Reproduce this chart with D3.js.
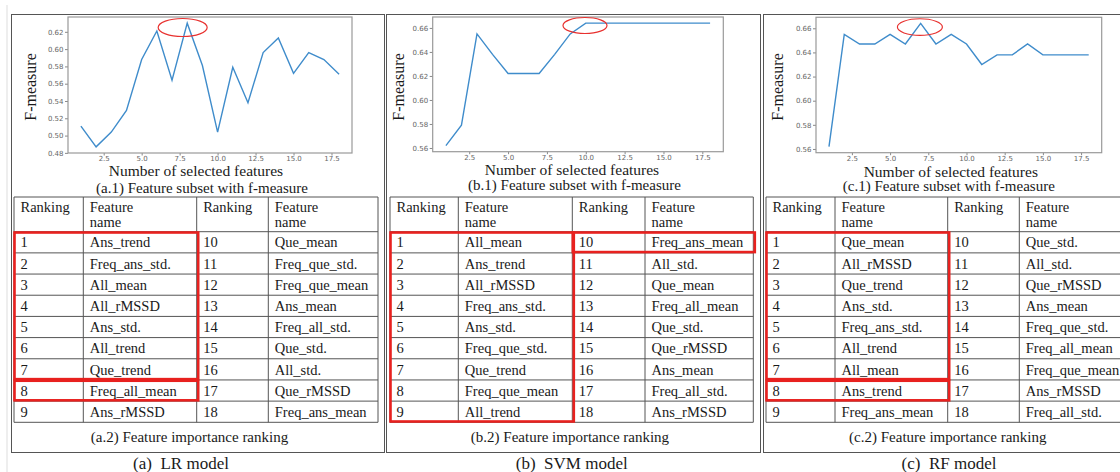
<!DOCTYPE html>
<html>
<head>
<meta charset="utf-8">
<script src="https://cdn.jsdelivr.net/npm/d3@7"></script>
<style>
	body { margin: 0; background: #fff; }
	svg { display: block; }
	.serif { font-family: "Liberation Serif", "Times New Roman", serif; fill: #1a1a1a; }
	.tick text { font-family: "DejaVu Sans", sans-serif; font-size: 7px; fill: #666; }
	.tick line { stroke: #888; }
	.domain { display: none; }
</style>
</head>
<body>
<div id="chart"></div>
<script>
// number of selected features (x axis of every line plot)
const featureCounts = [1, 2, 3, 4, 5, 6, 7, 8, 9, 10, 11, 12, 13, 14, 15, 16, 17, 18];
const lrFMeasure = [0.511, 0.487, 0.504, 0.529, 0.588, 0.621, 0.564, 0.630, 0.581, 0.504, 0.579, 0.538, 0.596, 0.613, 0.572, 0.596, 0.588, 0.571];
const svmFMeasure = [0.562, 0.579, 0.655, 0.638, 0.622, 0.622, 0.622, 0.638, 0.655, 0.664, 0.664, 0.664, 0.664, 0.664, 0.664, 0.664, 0.664, 0.664];
const rfFMeasure = [0.562, 0.655, 0.647, 0.647, 0.655, 0.647, 0.664, 0.647, 0.655, 0.647, 0.630, 0.638, 0.638, 0.647, 0.638, 0.638, 0.638, 0.638];

const xTicks = [2.5, 5, 7.5, 10, 12.5, 15, 17.5];
const lrYTicks = [0.48, 0.50, 0.52, 0.54, 0.56, 0.58, 0.60, 0.62];
const svmYTicks = [0.56, 0.58, 0.60, 0.62, 0.64, 0.66];
const rfYTicks = [0.56, 0.58, 0.60, 0.62, 0.64, 0.66];

// feature importance ranking (rank 1 first)
const lrRanking = ["Ans_trend", "Freq_ans_std.", "All_mean", "All_rMSSD", "Ans_std.", "All_trend", "Que_trend", "Freq_all_mean", "Ans_rMSSD",
	"Que_mean", "Freq_que_std.", "Freq_que_mean", "Ans_mean", "Freq_all_std.", "Que_std.", "All_std.", "Que_rMSSD", "Freq_ans_mean"];
const svmRanking = ["All_mean", "Ans_trend", "All_rMSSD", "Freq_ans_std.", "Ans_std.", "Freq_que_std.", "Que_trend", "Freq_que_mean", "All_trend",
	"Freq_ans_mean", "All_std.", "Que_mean", "Freq_all_mean", "Que_std.", "Que_rMSSD", "Ans_mean", "Freq_all_std.", "Ans_rMSSD"];
const rfRanking = ["Que_mean", "All_rMSSD", "Que_trend", "Ans_std.", "Freq_ans_std.", "All_trend", "All_mean", "Ans_trend", "Freq_ans_mean",
	"Que_std.", "All_std.", "Que_rMSSD", "Ans_mean", "Freq_que_std.", "Freq_all_mean", "Freq_que_mean", "Ans_rMSSD", "Freq_all_std."];

// red boxes: [first rank, last rank]
const lrBoxes = [[1, 7], [8, 8]];
const svmBoxes = [[1, 9], [10, 10]];
const rfBoxes = [[1, 7], [8, 8]];

// circled best subset: [features, f-measure]
const lrPeak = [7.7, 0.625];
const svmPeak = [9.95, 0.662];
const rfPeak = [6.95, 0.661];

const panels = [
	{
		tag: "a", model: "LR", values: lrFMeasure, yTicks: lrYTicks, ranking: lrRanking, boxes: lrBoxes, peak: lrPeak,
		frame: [11, 384], plot: { left: 68, right: 352, top: 17, bottom: 153 }, peakR: [24.5, 9],
		cols: [14, 83.3, 196.7, 268.3, 378],
		yLabelX: 30, xLabel: [196, 175.5], cap1: [202, 192.5], cap2: [189.5, 441.5], title: [181, 469]
	},
	{
		tag: "b", model: "SVM", values: svmFMeasure, yTicks: svmYTicks, ranking: svmRanking, boxes: svmBoxes, peak: svmPeak,
		frame: [386, 760], plot: { left: 432.7, right: 723.3, top: 17, bottom: 151.7 }, peakR: [22, 8],
		cols: [390, 458.3, 572.3, 645, 753.3],
		yLabelX: 398, xLabel: [572, 175], cap1: [574.5, 190], cap2: [570, 442], title: [571.7, 469]
	},
	{
		tag: "c", model: "RF", values: rfFMeasure, yTicks: rfYTicks, ranking: rfRanking, boxes: rfBoxes, peak: rfPeak,
		frame: [763, 1130], plot: { left: 816, right: 1101.7, top: 17.3, bottom: 152.7 }, peakR: [22.5, 8.3],
		cols: [766, 835, 947.7, 1019.3, 1128],
		yLabelX: 777, xLabel: [950.8, 176.5], cap1: [948.8, 191], cap2: [947.8, 442], title: [949, 469]
	}
];

const width = 1120, height = 472;
const frameTop = 14, frameBottom = 452;
const tableTop = 197, headerBottom = 231.7, tableBottom = 422.3;

const svg = d3.select("#chart")
	.append("svg")
	.attr("width", width)
	.attr("height", height);

// faint page edge
svg.append("line")
	.attr("x1", 7).attr("x2", 7).attr("y1", 5).attr("y2", height)
	.attr("stroke", "#ddd");

for (const p of panels) {
	const g = svg.append("g").classed("panel-" + p.tag, true);

	g.append("rect")
		.attr("x", p.frame[0] + 0.5)
		.attr("y", frameTop + 0.5)
		.attr("width", p.frame[1] - p.frame[0])
		.attr("height", frameBottom - frameTop)
		.attr("fill", "none")
		.attr("stroke", "#555");

	// line plot, matplotlib-like 5% margins
	const [yMin, yMax] = d3.extent(p.values);
	const yPad = (yMax - yMin) * 0.05;
	const [xMin, xMax] = d3.extent(featureCounts);
	const xPad = (xMax - xMin) * 0.05;
	const x = d3.scaleLinear().domain([xMin - xPad, xMax + xPad]).range([p.plot.left, p.plot.right]);
	const y = d3.scaleLinear().domain([yMin - yPad, yMax + yPad]).range([p.plot.bottom, p.plot.top]);

	g.append("g")
		.attr("transform", "translate(0," + p.plot.bottom + ")")
		.call(d3.axisBottom(x).tickValues(xTicks).tickFormat(d3.format(".1f")).tickSize(2.5).tickPadding(0.5));
	g.append("g")
		.attr("transform", "translate(" + p.plot.left + ",0)")
		.call(d3.axisLeft(y).tickValues(p.yTicks).tickFormat(d3.format(".2f")).tickSize(3).tickPadding(1.5));

	g.append("rect")
		.attr("x", p.plot.left)
		.attr("y", p.plot.top)
		.attr("width", p.plot.right - p.plot.left)
		.attr("height", p.plot.bottom - p.plot.top)
		.attr("fill", "none")
		.attr("stroke", "#999")
		.attr("stroke-width", 1.2);

	const line = d3.line()
		.x((d, i) => x(featureCounts[i]))
		.y(d => y(d));
	g.append("path")
		.datum(p.values)
		.attr("d", line)
		.attr("fill", "none")
		.attr("stroke", "#3f8ccb")
		.attr("stroke-width", 1.4);

	g.append("ellipse")
		.attr("cx", x(p.peak[0]))
		.attr("cy", y(p.peak[1]))
		.attr("rx", p.peakR[0])
		.attr("ry", p.peakR[1])
		.attr("fill", "none")
		.attr("stroke", "#e8312f")
		.attr("stroke-width", 1.2);

	g.append("text")
		.classed("serif", true)
		.attr("transform", "translate(" + p.yLabelX + ",87) rotate(-90)")
		.attr("text-anchor", "middle")
		.attr("dominant-baseline", "central")
		.style("font-size", "16px")
		.text("F-measure");
	g.append("text")
		.classed("serif", true)
		.attr("x", p.xLabel[0]).attr("y", p.xLabel[1])
		.attr("text-anchor", "middle")
		.style("font-size", "15.5px")
		.text("Number of selected features");
	g.append("text")
		.classed("serif", true)
		.attr("x", p.cap1[0]).attr("y", p.cap1[1])
		.attr("text-anchor", "middle")
		.style("font-size", "15px")
		.text("(" + p.tag + ".1) Feature subset with f-measure");

	// ranking table
	const row = d3.scaleLinear().domain([0, 9]).range([headerBottom, tableBottom]);
	const tableRight = p.cols[p.cols.length - 1];
	const grid = g.append("g").attr("stroke", "#555").attr("stroke-width", 1);
	for (const cx of p.cols)
		grid.append("line").attr("x1", cx).attr("x2", cx).attr("y1", tableTop).attr("y2", tableBottom);
	for (const ry of [tableTop].concat(d3.range(10).map(i => row(i))))
		grid.append("line").attr("x1", p.cols[0]).attr("x2", tableRight).attr("y1", ry).attr("y2", ry);

	const pad = 6.5;
	for (const half of [0, 1]) {
		g.append("text").classed("serif", true)
			.attr("x", p.cols[half * 2] + pad).attr("y", 211.5)
			.style("font-size", "14.5px").text("Ranking");
		g.append("text").classed("serif", true)
			.attr("x", p.cols[half * 2 + 1] + pad).attr("y", 211.5)
			.style("font-size", "14.5px").text("Feature");
		g.append("text").classed("serif", true)
			.attr("x", p.cols[half * 2 + 1] + pad).attr("y", 226.5)
			.style("font-size", "14.5px").text("name");
	}

	const cells = g.selectAll(null)
		.data(p.ranking)
		.enter()
		.append("g")
		.attr("transform", (d, i) => "translate(0," + row(i % 9) + ")");
	cells.append("text").classed("serif", true)
		.attr("x", (d, i) => p.cols[Math.floor(i / 9) * 2] + pad)
		.attr("y", 15.8)
		.style("font-size", "14.5px")
		.text((d, i) => i + 1);
	cells.append("text").classed("serif", true)
		.attr("x", (d, i) => p.cols[Math.floor(i / 9) * 2 + 1] + pad)
		.attr("y", 15.8)
		.style("font-size", "14.5px")
		.text(d => d);

	g.selectAll(null)
		.data(p.boxes)
		.enter()
		.append("rect")
		.attr("x", d => p.cols[Math.floor((d[0] - 1) / 9) * 2] + 0.5)
		.attr("y", d => row((d[0] - 1) % 9) + 0.8)
		.attr("width", d => p.cols[Math.floor((d[0] - 1) / 9) * 2 + 2] - p.cols[Math.floor((d[0] - 1) / 9) * 2] + 1)
		.attr("height", d => row((d[1] - 1) % 9 + 1) - row((d[0] - 1) % 9) - 1.6)
		.attr("fill", "none")
		.attr("stroke", "#e8211f")
		.attr("stroke-width", 2.6);

	g.append("text")
		.classed("serif", true)
		.attr("x", p.cap2[0]).attr("y", p.cap2[1])
		.attr("text-anchor", "middle")
		.style("font-size", "15px")
		.text("(" + p.tag + ".2) Feature importance ranking");
	g.append("text")
		.classed("serif", true)
		.attr("x", p.title[0]).attr("y", p.title[1])
		.attr("text-anchor", "middle")
		.style("font-size", "17px")
		.text("(" + p.tag + ")\u00a0 " + p.model + " model");
}
</script>
</body>
</html>
